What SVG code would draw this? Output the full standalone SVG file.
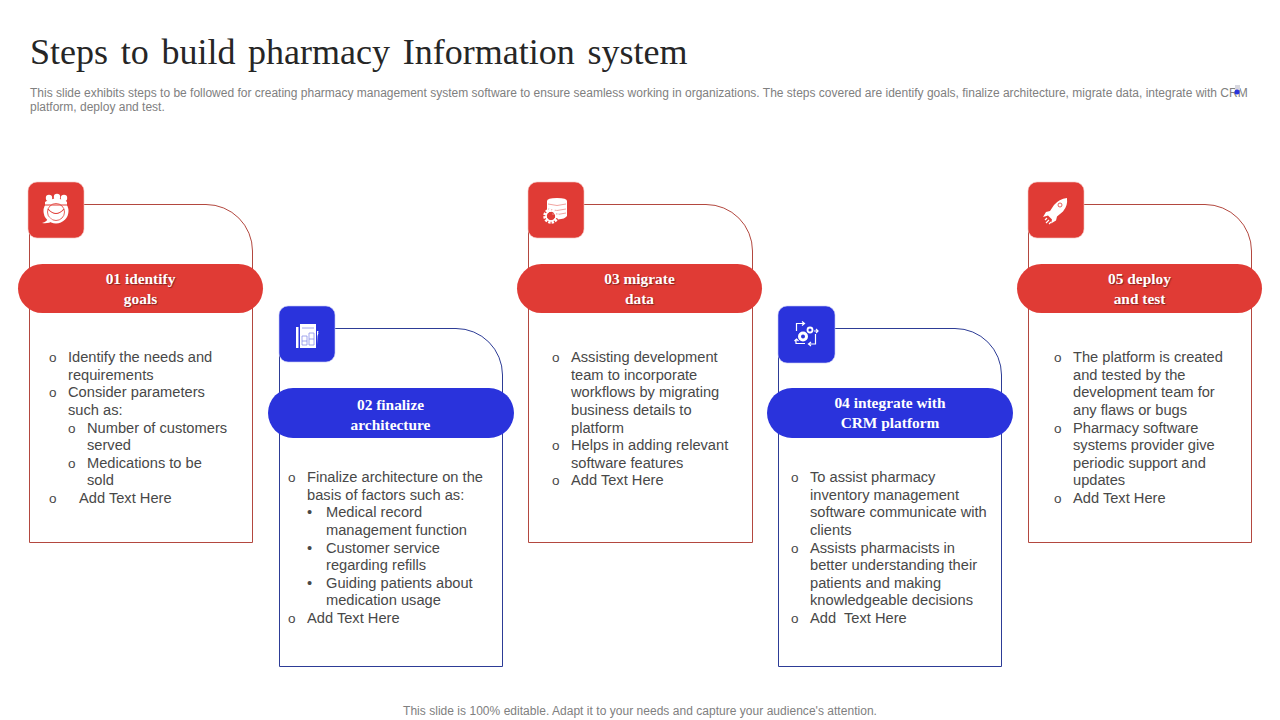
<svg xmlns="http://www.w3.org/2000/svg" width="1280" height="720" viewBox="0 0 1280 720">
<style>
text{font-family:"Liberation Sans",Arial,sans-serif}
.title{font-family:"Liberation Serif","Times New Roman",serif;font-size:36px;fill:#262626;word-spacing:3.700px}
.sub{font-size:12px;fill:#808080}
.foot{font-size:12px;fill:#808080;text-anchor:middle;letter-spacing:.03px}
.b{font-size:14.67px;fill:#484848}
.m{font-size:13.500px;fill:#484848}
.d{font-size:14.67px;fill:#484848}
.h{font-family:"Liberation Serif","Times New Roman",serif;font-size:15.400px;font-weight:700;fill:#fff;text-anchor:middle}
.hs{text-shadow:1px 1px 1px rgba(70,20,20,.6)}
.rc{fill:#fff;stroke:#b3483f;stroke-width:1}
.bc{fill:#fff;stroke:#2d3c96;stroke-width:1}
.r{fill:#e03b35;stroke:#f3c4c0;stroke-width:1;stroke-opacity:.6}
.p{fill:#e03b35}
.bl{fill:#2a33dc}
.bs{stroke:#c4c8f5;stroke-width:1;stroke-opacity:.6}
.ic{fill:#fff}
.il{fill:none;stroke:#fff;stroke-width:1.200}
</style>
<text class="title" x="30" y="64">Steps to build pharmacy Information system</text>
<text class="sub" x="30" y="97">This slide exhibits steps to be followed for creating pharmacy management system software to ensure seamless working in organizations. The steps covered are identify goals, finalize architecture, migrate data, integrate with CRM</text>
<text class="sub" x="30" y="111">platform, deploy and test.</text>
<rect x="1235" y="85" width="5" height="5" fill="#d8d8e0"/>
<circle cx="1237" cy="92" r="2.500" fill="#2a33dc"/>

<g id="node-1">
<path class="rc" d="M29.500 204.500H206a46.500 46.500 0 0 1 46.500 46.500V542.500H29.500Z"/>
<rect class="r" x="28" y="182" width="56" height="56" rx="9"/>
<g id="icon-1">
<circle class="ic" cx="49" cy="198" r="3.200"/><circle class="ic" cx="57" cy="197" r="3.200"/><circle class="ic" cx="64" cy="198" r="3.200"/>
<path class="ic" d="M45 206v-4q4-3 8-2l1-1h6l1 1q4-1 6 2v4Z"/>
<circle class="ic" cx="56" cy="211" r="12.500"/>
<path d="M44 205h24M48 209q8 9 16 0" fill="none" stroke="#e03b35" stroke-width="1.100"/>
<circle cx="56" cy="212" r="8.500" fill="none" stroke="#e03b35" stroke-width=".8"/>
<path class="ic" d="M42 223q5-1 7-6l4 4q-5 3-11 2Z"/>
</g>
<rect class="p" x="18" y="264" width="245" height="49" rx="24.500"/>
<text class="h hs"><tspan x="140.500" y="284">01 identify</tspan><tspan x="140.500" y="304">goals</tspan></text>
<text class="m" x="49" y="362">o</text><text class="b" x="68" y="362">Identify the needs and</text>
<text class="b" x="68" y="380">requirements</text>
<text class="m" x="49" y="397">o</text><text class="b" x="68" y="397">Consider parameters</text>
<text class="b" x="68" y="415">such as:</text>
<text class="m" x="68" y="433">o</text><text class="b" x="87" y="433">Number of customers</text>
<text class="b" x="87" y="450">served</text>
<text class="m" x="68" y="468">o</text><text class="b" x="87" y="468">Medications to be</text>
<text class="b" x="87" y="485">sold</text>
<text class="m" x="49" y="503">o</text><text class="b" x="79" y="503">Add Text Here</text>
</g>

<g id="node-2">
<path class="bc" d="M279.500 328.500H456a46.500 46.500 0 0 1 46.500 46.500V666.500H279.500Z"/>
<rect class="bl bs" x="279" y="306" width="56" height="56" rx="9"/>
<g id="icon-2">
<path class="ic" d="M296 327h2.500v21H296ZM300 324h16v24h-16Z"/>
<path class="ic" d="M317 331h1.500l-.5 1.500 .5.5-1 3-.5 9H317Z"/>
<path d="M302 328h12M302 336h5v9h-5ZM309 333h5v12h-5ZM302 341h5M309 339h5" fill="none" stroke="#8a90ea" stroke-width=".8"/>
</g>
<rect class="bl" x="268" y="388" width="246" height="50" rx="25"/>
<text class="h"><tspan x="390.500" y="410">02 finalize</tspan><tspan x="390.500" y="430">architecture</tspan></text>
<text class="m" x="288" y="482">o</text><text class="b" x="307" y="482">Finalize architecture on the</text>
<text class="b" x="307" y="500">basis of factors such as:</text>
<text class="d" x="307" y="517">•</text><text class="b" x="326" y="517">Medical record</text>
<text class="b" x="326" y="535">management function</text>
<text class="d" x="307" y="553">•</text><text class="b" x="326" y="553">Customer service</text>
<text class="b" x="326" y="570">regarding refills</text>
<text class="d" x="307" y="588">•</text><text class="b" x="326" y="588">Guiding patients about</text>
<text class="b" x="326" y="605">medication usage</text>
<text class="m" x="288" y="623">o</text><text class="b" x="307" y="623">Add Text Here</text>
</g>

<g id="node-3">
<path class="rc" d="M528.500 204.500H706a46.500 46.500 0 0 1 46.500 46.500V542.500H528.500Z"/>
<rect class="r" x="528" y="182" width="56" height="56" rx="9"/>
<g id="icon-3">
<path class="ic" d="M547 201q0-3 10-3t10 3v15q-2 3-9 3.500l-1-6-5-3-5 1Z"/>
<path d="M548 204q9 3 18 0M548 209q9 3 18 0M552 214q7 1 14-1" fill="none" stroke="#ee9a95" stroke-width=".9"/>
<circle cx="551" cy="216" r="6" fill="none" stroke="#fff" stroke-width="3.500" stroke-dasharray="2.200 1"/>
<circle cx="551" cy="216" r="5" fill="none" stroke="#fff" stroke-width="1.500"/>
</g>
<rect class="p" x="517" y="264" width="245" height="49" rx="24.500"/>
<text class="h hs"><tspan x="639.500" y="284">03 migrate</tspan><tspan x="639.500" y="304">data</tspan></text>
<text class="m" x="552" y="362">o</text><text class="b" x="571" y="362">Assisting development</text>
<text class="b" x="571" y="380">team to incorporate</text>
<text class="b" x="571" y="397">workflows by migrating</text>
<text class="b" x="571" y="415">business details to</text>
<text class="b" x="571" y="433">platform</text>
<text class="m" x="552" y="450">o</text><text class="b" x="571" y="450">Helps in adding relevant</text>
<text class="b" x="571" y="468">software features</text>
<text class="m" x="552" y="485">o</text><text class="b" x="571" y="485">Add Text Here</text>
</g>

<g id="node-4">
<path class="bc" d="M778.500 328.500H955a46.500 46.500 0 0 1 46.500 46.500V666.500H778.500Z"/>
<rect class="bl bs" x="778" y="306" width="57" height="57" rx="9"/>
<g id="icon-4">
<circle cx="803" cy="336.500" r="3.500" fill="none" stroke="#fff" stroke-width="3"/>
<circle cx="810" cy="330" r="2.500" fill="none" stroke="#fff" stroke-width="1.800"/>
<path class="il" d="M796.500 331V323.500H804M802 321.500l2.500 2-2.500 2M814 331h4M816 329l2 2-2 2M815.500 334V344H809M811 342l-2.500 2 2.500 2M805 343.500H796V339M794.500 341l2-2 2 2" stroke-width=".9"/>
</g>
<rect class="bl" x="767" y="388" width="246" height="50" rx="25"/>
<text class="h"><tspan x="890" y="408">04 integrate with</tspan><tspan x="890" y="428">CRM platform</tspan></text>
<text class="m" x="791" y="482">o</text><text class="b" x="810" y="482">To assist pharmacy</text>
<text class="b" x="810" y="500">inventory management</text>
<text class="b" x="810" y="517">software communicate with</text>
<text class="b" x="810" y="535">clients</text>
<text class="m" x="791" y="553">o</text><text class="b" x="810" y="553">Assists pharmacists in</text>
<text class="b" x="810" y="570">better understanding their</text>
<text class="b" x="810" y="588">patients and making</text>
<text class="b" x="810" y="605">knowledgeable decisions</text>
<text class="m" x="791" y="623">o</text><text class="b" x="810" y="623" xml:space="preserve">Add  Text Here</text>
</g>

<g id="node-5">
<path class="rc" d="M1028.500 204.500H1205a46.500 46.500 0 0 1 46.500 46.500V542.500H1028.500Z"/>
<rect class="r" x="1028" y="182" width="56" height="56" rx="9"/>
<g id="icon-5">
<path class="ic" d="M1067 198q-8 1-13 7l-4 6-4 1-3 5 5-1.500 4 4-1 4 5-3 1-4 6-5q5-6 4-12.500Z"/>
<circle cx="1060" cy="205" r="2" fill="none" stroke="#e03b35" stroke-width=".8"/>
<path class="il" d="M1047 218l-2 2M1049 220l-3 3M1051 222l-2 2" stroke-width=".8"/>
</g>
<rect class="p" x="1017" y="264" width="245" height="49" rx="24.500"/>
<text class="h hs"><tspan x="1139.500" y="284">05 deploy</tspan><tspan x="1139.500" y="304">and test</tspan></text>
<text class="m" x="1054" y="362">o</text><text class="b" x="1073" y="362">The platform is created</text>
<text class="b" x="1073" y="380">and tested by the</text>
<text class="b" x="1073" y="397">development team for</text>
<text class="b" x="1073" y="415">any flaws or bugs</text>
<text class="m" x="1054" y="433">o</text><text class="b" x="1073" y="433">Pharmacy software</text>
<text class="b" x="1073" y="450">systems provider give</text>
<text class="b" x="1073" y="468">periodic support and</text>
<text class="b" x="1073" y="485">updates</text>
<text class="m" x="1054" y="503">o</text><text class="b" x="1073" y="503">Add Text Here</text>
</g>

<g id="connectors"></g>
<text class="foot" x="640" y="715">This slide is 100% editable. Adapt it to your needs and capture your audience's attention.</text>
</svg>
